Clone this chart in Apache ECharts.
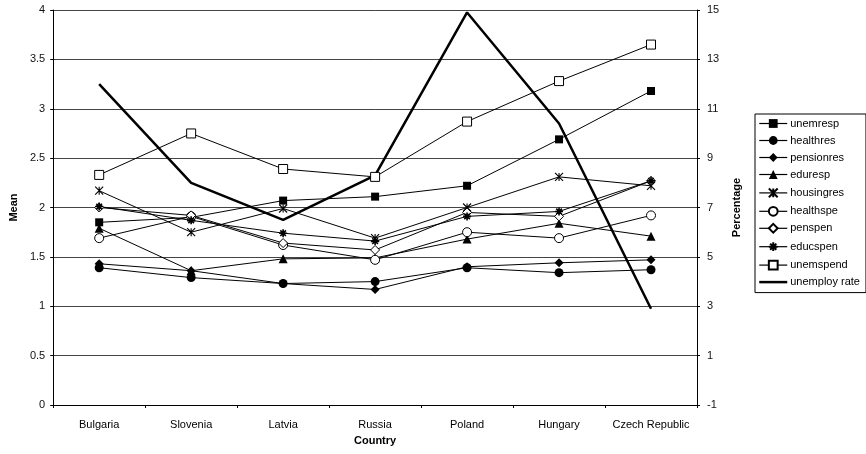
<!DOCTYPE html>
<html>
<head>
<meta charset="utf-8">
<script src="https://cdn.jsdelivr.net/npm/echarts@6/dist/echarts.min.js"></script>
<style>
  html, body { margin: 0; padding: 0; background: #fff; }
  #chart { width: 866px; height: 454px; }
</style>
</head>
<body>
<div id="chart"></div>
<script>
// Countries on the category axis
const categories = ['Bulgaria', 'Slovenia', 'Latvia', 'Russia', 'Poland', 'Hungary', 'Czech Republic'];

// Mean scores (left axis)
const unemresp   = [1.85, 1.90, 2.07, 2.11, 2.22, 2.69, 3.18];
const healthres  = [1.39, 1.29, 1.23, 1.25, 1.39, 1.34, 1.37];
const pensionres = [1.43, 1.36, 1.23, 1.17, 1.40, 1.44, 1.47];
const eduresp    = [1.79, 1.36, 1.48, 1.49, 1.68, 1.84, 1.71];
const housingres = [2.17, 1.75, 1.99, 1.69, 2.00, 2.31, 2.22];
const healthspe  = [1.69, 1.91, 1.62, 1.47, 1.75, 1.69, 1.92];
const penspen    = [2.00, 1.92, 1.64, 1.57, 1.95, 1.91, 2.27];
const educspen   = [2.01, 1.87, 1.74, 1.66, 1.91, 1.96, 2.27];
const unemspend  = [2.33, 2.75, 2.39, 2.31, 2.87, 3.28, 3.65];

// Unemployment rate in percent (right axis)
const unemployRate = [12.0, 8.0, 6.5, 8.3, 14.9, 10.4, 2.9];

const FONT = 'Liberation Sans, Arial, sans-serif';
const INK = '#000';

// Outline-only marker shapes
const xBarPath = 'path://M0,0L10,10M10,0L0,10M5,0L5,10';
const starPath = 'path://M0,5L10,5M5,0L5,10M1.5,1.5L8.5,8.5M8.5,1.5L1.5,8.5';

function meanSeries(name, data, symbol, size, fill, stroke) {
  return {
    name: name,
    type: 'line',
    yAxisIndex: 0,
    data: data,
    symbol: symbol,
    symbolSize: size,
    showAllSymbol: true,
    lineStyle: { color: INK, width: 1 },
    itemStyle: {
      color: fill,
      borderColor: INK,
      borderWidth: stroke
    },
    emphasis: { disabled: true },
    animation: false
  };
}

const chart = echarts.init(document.getElementById('chart'), null, { renderer: 'canvas' });

chart.setOption({
  backgroundColor: '#fff',
  animation: false,
  textStyle: { fontFamily: FONT },
  grid: { left: 53, right: 169, top: 10, bottom: 49, containLabel: false },
  legend: {
    orient: 'vertical',
    left: 755,
    top: 114,
    padding: [4, 6, 5, 3],
    itemWidth: 28,
    itemHeight: 11,
    itemGap: 6,
    borderColor: INK,
    borderWidth: 1,
    lineStyle: { width: 1.2 },
    textStyle: { fontFamily: FONT, fontSize: 11, color: INK, padding: [0, 0, 0, -2] },
    data: ['unemresp', 'healthres', 'pensionres', 'eduresp', 'housingres',
           'healthspe', 'penspen', 'educspen', 'unemspend',
           { name: 'unemploy rate', lineStyle: { width: 2.5 } }]
  },
  xAxis: {
    type: 'category',
    data: categories,
    boundaryGap: true,
    name: 'Country',
    nameLocation: 'middle',
    nameGap: 30,
    nameTextStyle: { fontFamily: FONT, fontSize: 11, fontWeight: 'bold', color: INK },
    axisLine: { lineStyle: { color: INK, width: 1 } },
    axisTick: { show: true, interval: 0, length: 3, lineStyle: { color: INK } },
    axisLabel: { interval: 0, fontFamily: FONT, fontSize: 11, color: INK, margin: 14 }
  },
  yAxis: [
    {
      type: 'value',
      min: 0,
      max: 4,
      interval: 0.5,
      position: 'left',
      name: 'Mean',
      nameLocation: 'middle',
      nameRotate: 90,
      nameGap: 30,
      nameTextStyle: { fontFamily: FONT, fontSize: 11, fontWeight: 'bold', color: INK },
      axisLine: { show: true, lineStyle: { color: INK, width: 1 } },
      axisTick: { show: true, length: 3, lineStyle: { color: INK } },
      axisLabel: { fontFamily: FONT, fontSize: 11, color: '#111', margin: 8 },
      splitLine: { show: true, lineStyle: { color: '#444', width: 1 } }
    },
    {
      type: 'value',
      min: -1,
      max: 15,
      interval: 2,
      position: 'right',
      name: 'Percentage',
      nameLocation: 'middle',
      nameRotate: 90,
      nameGap: 34,
      nameTextStyle: { fontFamily: FONT, fontSize: 11, fontWeight: 'bold', color: INK },
      axisLine: { show: true, lineStyle: { color: INK, width: 1 } },
      axisTick: { show: true, length: 3, lineStyle: { color: INK } },
      axisLabel: { fontFamily: FONT, fontSize: 11, color: '#111', margin: 10 },
      splitLine: { show: false }
    }
  ],
  series: [
    meanSeries('unemresp',   unemresp,   'rect',     8, INK,    0),
    meanSeries('healthres',  healthres,  'circle',   9, INK,    0),
    meanSeries('pensionres', pensionres, 'diamond',  9, INK,    0),
    meanSeries('eduresp',    eduresp,    'triangle', 9, INK,    0),
    meanSeries('housingres', housingres, xBarPath,   8, 'none', 1.1),
    meanSeries('healthspe',  healthspe,  'circle',   9, '#fff', 1),
    meanSeries('penspen',    penspen,    'diamond',  9, '#fff', 1),
    meanSeries('educspen',   educspen,   starPath,   8, 'none', 1.6),
    meanSeries('unemspend',  unemspend,  'rect',     9, '#fff', 1),
    {
      name: 'unemploy rate',
      type: 'line',
      yAxisIndex: 1,
      data: unemployRate,
      symbol: 'none',
      lineStyle: { color: INK, width: 2.5 },
      // keeps the legend entry a plain line
      itemStyle: { color: INK, opacity: 0 },
      emphasis: { disabled: true },
      animation: false
    }
  ]
});
</script>
</body>
</html>
